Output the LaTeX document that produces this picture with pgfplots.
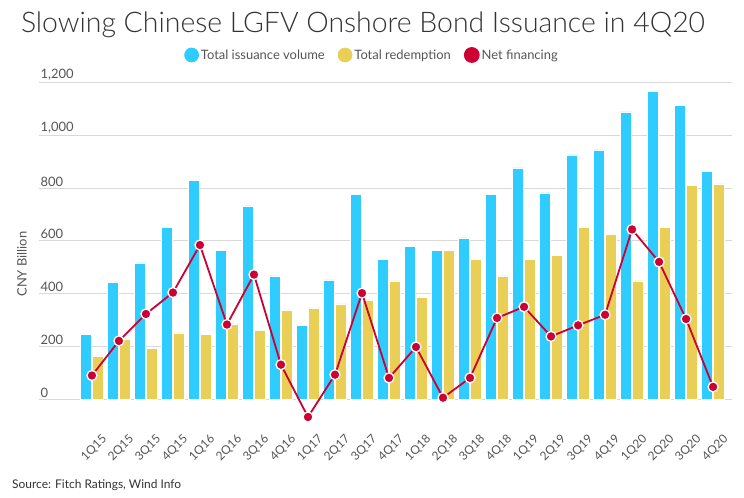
\documentclass[border=0pt]{standalone}
\usepackage{pgfplots}
\pgfplotsset{compat=1.18}
\usepackage{fontspec}
\setmainfont{Lato}
\newfontfamily\latolight{Lato Light}
\definecolor{blueC}{HTML}{2ECCFF}
\definecolor{yellowC}{HTML}{EACF57}
\definecolor{redC}{HTML}{CC0033}
\definecolor{gridC}{HTML}{D9D9D9}
\definecolor{txtC}{HTML}{333333}
\definecolor{tickC}{HTML}{555555}
\begin{document}
\begin{tikzpicture}
\fill[white] (0,0) rectangle (744bp,498bp);
\path[use as bounding box] (0,0) rectangle (744bp,498bp);
\node[anchor=base, font=\latolight\fontsize{28.5}{32}\selectfont, text=txtC, inner sep=0pt] at (363bp,465bp) {Slowing Chinese LGFV Onshore Bond Issuance in 4Q20};
\node[anchor=west, font=\fontsize{12}{14}\selectfont, text=txtC, inner sep=0pt] at (12bp,13bp) {Source: Fitch Ratings, Wind Info};
\begin{axis}[
  at={(39bp,72.3bp)}, anchor=south west,
  scale only axis, width=693bp, height=343.4bp,
  xmin=-1.96, xmax=23.7, ymin=-100, ymax=1200,
  clip=false,
  axis line style={draw=none},
  major tick length=0pt,
  ymajorgrids, major grid style={draw=gridC, line width=0.9bp},
  ytick={0,200,...,1200},
  /pgf/number format/assume math mode=true,
  /pgf/number format/1000 sep={,},
  yticklabel style={anchor=south west, inner sep=1.5bp, font=\fontsize{13}{15}\selectfont, text=tickC},
  xtick={0,...,23},
  xticklabels={1Q15,2Q15,3Q15,4Q15,1Q16,2Q16,3Q16,4Q16,1Q17,2Q17,3Q17,4Q17,1Q18,2Q18,3Q18,4Q18,1Q19,2Q19,3Q19,4Q19,1Q20,2Q20,3Q20,4Q20},
  xticklabel style={rotate=45, anchor=north east, inner sep=1bp, xshift=2bp, yshift=-11bp, font=\fontsize{12}{14}\selectfont, text=tickC},
  ylabel={CNY Billion},
  ylabel style={at={(axis cs:-2.59,512)}, anchor=center, font=\fontsize{13}{15}\selectfont, text=tickC},
  legend columns=3,
  legend style={at={(axis description cs:0.4805,1.0795)}, anchor=center, draw=none, fill=none,
    font=\fontsize{13}{15}\selectfont, text=tickC,
    /tikz/every even column/.append style={column sep=11bp}},
]
\addplot[ybar, bar width=11.2bp, bar shift=-5.9bp, fill=blueC, draw=white, line width=0.7bp,
  legend image code/.code={\fill[blueC] (-2bp,0bp) circle (7bp);}]
  coordinates {(0,247) (1,444) (2,516) (3,652) (4,830) (5,565) (6,732) (7,467) (8,278) (9,452) (10,777) (11,528)
  (12,580) (13,562) (14,611) (15,774) (16,876) (17,781) (18,925) (19,944) (20,1088) (21,1167) (22,1111) (23,861)};
\addlegendentry{Total issuance volume}
\addplot[ybar, bar width=11.2bp, bar shift=5.9bp, fill=yellowC, draw=white, line width=0.7bp,
  legend image code/.code={\fill[yellowC] (-2bp,0bp) circle (7bp);}]
  coordinates {(0,164) (1,225) (2,194) (3,251) (4,247) (5,285) (6,262) (7,338) (8,346) (9,361) (10,376) (11,448)
  (12,384) (13,562) (14,531) (15,467) (16,528) (17,546) (18,649) (19,626) (20,448) (21,649) (22,808) (23,815)};
\addlegendentry{Total redemption}
\addplot[sharp plot, draw=redC, line width=1.8bp, mark=*, mark size=5bp,
  mark options={fill=redC, draw=white, line width=1.3bp},
  legend image code/.code={\fill[redC] (-2bp,0bp) circle (7bp);}]
  coordinates {(0,90) (1,221) (2,323) (3,404) (4,584) (5,283) (6,472) (7,131) (8,-67) (9,93) (10,402) (11,81)
  (12,198) (13,6) (14,81) (15,308) (16,350) (17,238) (18,280) (19,320) (20,643) (21,520) (22,304) (23,47)};
\addlegendentry{Net financing}
\end{axis}
\end{tikzpicture}
\end{document}
